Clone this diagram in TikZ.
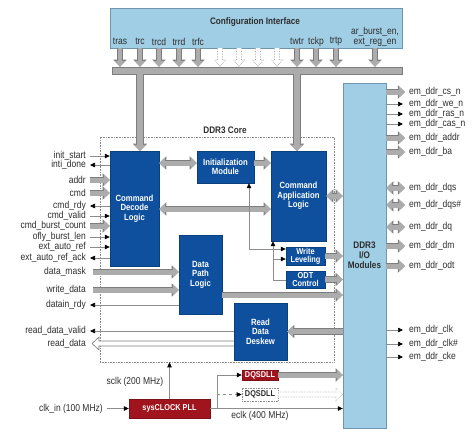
\documentclass[tikz,border=0pt]{standalone}
\usepackage{fontspec}
\setmainfont{Liberation Sans}[FakeStretch=0.85]
\newfontfamily\boxfont{Liberation Sans Bold}[FakeStretch=0.86]
\usetikzlibrary{arrows.meta}
\definecolor{dblue}{RGB}{14,80,158}
\definecolor{lblue}{RGB}{160,206,228}
\definecolor{lbluedark}{RGB}{110,150,175}
\definecolor{arrowgray}{RGB}{172,172,172}
\definecolor{arrowdark}{RGB}{125,125,125}
\definecolor{linegray}{RGB}{140,140,140}
\definecolor{dred}{RGB}{160,20,30}
\definecolor{txt}{RGB}{45,45,45}
\begin{document}
\begin{tikzpicture}[x=1pt,y=-1pt,
  blk/.style={fill=dblue, draw=dblue!80!black, text=white, font=\boxfont\fontsize{9}{9.5}\selectfont, align=center, inner sep=0pt},
  smallblk/.style={blk, font=\boxfont\fontsize{8.6}{8.2}\selectfont},
  redblk/.style={fill=dred, draw=dred!80!black, text=white, font=\boxfont\fontsize{8.5}{9}\selectfont, inner sep=0pt},
  lbl/.style={font=\fontsize{10}{10}\selectfont, inner sep=1pt, text=txt},
  sig/.style={draw=linegray, line width=0.7pt, -{Triangle[length=5pt,width=4.5pt,color=black]}},
  dsig/.style={draw=linegray, line width=0.7pt, {Triangle[length=5pt,width=4.5pt,color=black]}-{Triangle[length=5pt,width=4.5pt,color=black]}},
  plain/.style={draw=linegray, line width=0.7pt},
  big/.style={draw=arrowgray, line width=5pt, -{Triangle[width=11pt,length=6pt]},
    preaction={draw=arrowdark, line width=6.2pt, -{Triangle[width=13pt,length=7.2pt]}}},
  bigd/.style={draw=arrowgray, line width=5pt, {Triangle[width=11pt,length=6pt]}-{Triangle[width=11pt,length=6pt]},
    preaction={draw=arrowdark, line width=6.2pt, {Triangle[width=13pt,length=7.2pt]}-{Triangle[width=13pt,length=7.2pt]}}},
  drop/.style={draw=arrowgray, line width=6pt, -{Triangle[width=12pt,length=6pt]},
    preaction={draw=arrowdark, line width=7.2pt, -{Triangle[width=14pt,length=7.2pt]}}},
  ghost/.style={draw=arrowgray, densely dotted, line width=0.6pt, fill=white},
  hollow/.style={draw=arrowdark, line width=0.6pt, fill=white}
]
\useasboundingbox (0,0) rectangle (474,432);

% configuration interface
\node[fill=lblue, draw=lbluedark, minimum width=292pt, minimum height=40pt, inner sep=0] (cfg) at (256,28) {};
\node[font=\boxfont\fontsize{9.5}{9.5}\selectfont, text=txt] (cfgt) at (255,22) {Configuration Interface};
\node[fill=arrowgray, draw=arrowdark, minimum width=290pt, minimum height=7pt, inner sep=0] (bar) at (257,70.5) {};

\foreach \n/\x/\t in {c1/120/tras, c2/140/trc, c3/159/trcd, c4/179/trrd, c5/198/trfc, c6/297/twtr, c7/316/tckp, c8/336/trtp}{
  \node[lbl] (\n) at (\x,41.5) {\t};
  \draw[big, line width=4.5pt] (\n |- cfg.south) -- (\n |- bar.north);
}
\node[lbl, align=center, font=\fontsize{10}{9.5}\selectfont] (c9) at (375,37) {ar\_burst\_en,\\ext\_reg\_en};
\draw[big, line width=4.5pt] (c9 |- cfg.south) -- (c9 |- bar.north);
\foreach \c in {220,239,258,277}{
  \draw[ghost] ({\c-2.5},48) -- ({\c-2.5},60) -- ({\c-5.5},60) -- (\c,66.5) -- ({\c+5.5},60) -- ({\c+2.5},60) -- ({\c+2.5},48);
}

% DDR3 core
\node[draw=linegray, densely dotted, line width=0.6pt, minimum width=234pt, minimum height=225pt, inner sep=0] (core) at (217,249.5) {};
\node[font=\boxfont\fontsize{9.5}{9.5}\selectfont, text=txt] (coret) at (225,130) {DDR3 Core};

% I/O modules
\node[fill=lblue, draw=lbluedark, minimum width=43pt, minimum height=345pt, inner sep=0, text=txt,
  font=\boxfont\fontsize{9.5}{10}\selectfont, align=center] (io) at (364.5,255.5) {DDR3\\I/O\\Modules};

% blocks
\node[blk, minimum width=49pt, minimum height=115pt] (cdl) at (134.5,208.5) {Command\\Decode\\Logic};
\node[blk, minimum width=57pt, minimum height=32pt] (init) at (225.5,167) {Initialization\\Module};
\node[blk, minimum width=55pt, minimum height=90pt] (cal) at (298.5,196) {Command\\Application\\Logic};
\node[smallblk, minimum width=39pt, minimum height=18pt] (wl) at (305.5,256) {Write\\Leveling};
\node[smallblk, minimum width=39pt, minimum height=17pt] (odt) at (305.5,279.5) {ODT\\Control};
\node[blk, minimum width=43pt, minimum height=79pt] (dpl) at (200.5,274.5) {Data\\Path\\Logic};
\node[blk, minimum width=53pt, minimum height=57pt] (rdd) at (260.5,331.5) {Read\\Data\\Deskew};
\node[redblk, minimum width=81pt, minimum height=19pt] (pll) at (169.5,408.5) {sysCLOCK PLL};
\node[redblk, minimum width=36pt, minimum height=10pt] (dqs1) at (260,375) {DQSDLL};
\node[draw=linegray, densely dotted, line width=0.6pt, minimum width=36pt, minimum height=13pt, inner sep=0,
  text=txt, font=\boxfont\fontsize{8.5}{9}\selectfont] (dqs2) at (260,394.5) {DQSDLL};

% bus drops
\draw[drop] (bar.south -| 140,0) -- (cdl.north -| 140,0);
\draw[drop] (bar.south -| 297,0) -- (cal.north -| 297,0);

% internal connections
\draw[bigd] (cdl.east |- 0,163) -- (init.west |- 0,163);
\draw[big] (init.east |- 0,163) -- (cal.west |- 0,163);
\draw[bigd] (cdl.east |- 0,209) -- (cal.west |- 0,209);
\draw[bigd] (cal.east) -- (cal.east -| io.west);
\draw[big] (wl.east) -- (wl.east -| io.west);
\draw[big] (odt.east) -- (odt.east -| io.west);
\draw[big] (dpl.east |- 0,295) -- (io.west |- 0,295);
\draw[big] (rdd.east -| io.west) -- (rdd.east);
\draw[dsig] (init.south -| 249,0) -- (249,249) -- (wl.west |- 0,249);
\draw[{Triangle[length=5pt,width=4.5pt,color=black]}-, plain] (cal.south -| 273,0) -- (273,280) -- (odt.west |- 0,280);
\draw[sig] (273,259) -- (wl.west |- 0,259);

% left signals
\foreach \n/\y/\t in {a1/156/init\_start, a6/216/cmd\_valid, a8/237/ofly\_burst\_len, a9/247/ext\_auto\_ref}{
  \node[lbl, anchor=east] (\n) at (87,\y) {\t};
  \draw[sig] ([xshift=3pt]\n.east) -- (\n -| cdl.west);
}
\foreach \n/\y/\t in {a2/165/inti\_done, a5/206/cmd\_rdy, a10/258/ext\_auto\_ref\_ack}{
  \node[lbl, anchor=east] (\n) at (87,\y) {\t};
  \draw[sig] (\n -| cdl.west) -- ([xshift=3pt]\n.east);
}
\foreach \n/\y/\t in {a3/180/addr, a4/193/cmd, a7/226/cmd\_burst\_count}{
  \node[lbl, anchor=east] (\n) at (87,\y) {\t};
  \draw[big] ([xshift=3pt]\n.east) -- (\n -| cdl.west);
}
\foreach \n/\y/\t in {b1/272/data\_mask, b2/290/write\_data}{
  \node[lbl, anchor=east] (\n) at (87,\y) {\t};
  \draw[big] ([xshift=6pt]\n.east) -- (\n -| dpl.west);
}
\node[lbl, anchor=east] (b3) at (87,305) {datain\_rdy};
\draw[sig] (b3 -| dpl.west) -- ([xshift=3pt]b3.east);
\node[lbl, anchor=east] (b4) at (87,331) {read\_data\_valid};
\draw[sig] (b4 -| rdd.west) -- ([xshift=3pt]b4.east);
\node[lbl, anchor=east] (b5) at (87,343.5) {read\_data};
\draw[hollow] (rdd.west |- 0,341) -- (99,341) -- (99,337) -- (92,343.5) -- (99,350) -- (99,346) -- (rdd.west |- 0,346);

% right signals
\foreach \n/\y/\t in {r1/92/em\_ddr\_cs\_n, r5/138/em\_ddr\_addr, r6/152/em\_ddr\_ba, r10/246/em\_ddr\_dm, r11/266/em\_ddr\_odt}{
  \node[lbl, anchor=west] (\n) at (408,\y) {\t};
  \draw[big] (\n -| io.east) -- ([xshift=-3pt]\n.west);
}
\foreach \n/\y/\t in {r2/104/em\_ddr\_we\_n, r3/114/em\_ddr\_ras\_n, r4/124/em\_ddr\_cas\_n, r12/330/em\_ddr\_clk, r13/344/em\_ddr\_clk\#, r14/357/em\_ddr\_cke}{
  \node[lbl, anchor=west] (\n) at (408,\y) {\t};
  \draw[sig] (\n -| io.east) -- ([xshift=-5pt]\n.west);
}
\foreach \n/\y/\t in {r7/188/em\_ddr\_dqs, r8/205/em\_ddr\_dqs\#, r9/227/em\_ddr\_dq}{
  \node[lbl, anchor=west] (\n) at (408,\y) {\t};
  \draw[bigd] (\n -| io.east) -- ([xshift=-3pt]\n.west);
}

% clocks
\node[lbl, anchor=east] (clk) at (104,408.5) {clk\_in (100 MHz)};
\draw[sig] ([xshift=3pt]clk.east) -- (pll.west);
\node[lbl] (sclk) at (135,382) {sclk (200 MHz)};
\draw[sig] (pll.north) -- (pll.north |- core.south);
\coordinate (br) at ([xshift=7pt]pll.east);
\draw[sig] (pll.east) -- (pll.east -| io.west);
\node[lbl] (eclk) at (260,416) {eclk (400 MHz)};
\draw[sig] (br) |- (dqs1.west);
\draw[sig, dashed] (br |- dqs2.west) -- (dqs2.west);
\draw[big] (dqs1.east) -- (dqs1.east -| io.west);
\draw[ghost] (dqs2.east |- 0,392) -- (336,392) -- (336,388) -- (342.5,394.5) -- (336,401) -- (336,397) -- (dqs2.east |- 0,397);
\end{tikzpicture}
\end{document}
